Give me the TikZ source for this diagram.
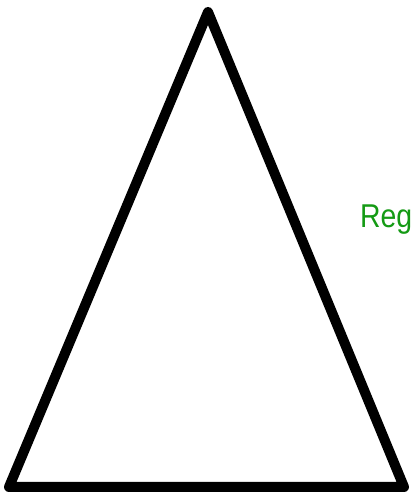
\documentclass[tikz,border=0pt]{standalone}
\usepackage{fontspec}
\setmainfont{Liberation Sans}
\newfontfamily\regfont[FakeStretch=0.86]{Liberation Sans}
\definecolor{RegGreen}{HTML}{149A14}
\tikzset{
    % outline of the triangle
    triedge/.style={
        draw=black,
        line width=10pt,
        line join=round
    },
    reglabel/.style={
        anchor=base west,
        inner sep=0pt,
        text=RegGreen,
        font=\regfont\fontsize{33}{37}\selectfont
    }
}
\begin{document}
\begin{tikzpicture}[x=1pt,y=1pt]
    \useasboundingbox (0,0) rectangle (411,495);
    \coordinate (apex) at (208,483);
    \coordinate (left) at (9,8);
    \coordinate (right) at (404,8);
    \draw[triedge] (apex) -- (left) -- (right) -- cycle;
    \node[reglabel] (reg) at (360,267) {Reg};
\end{tikzpicture}
\end{document}
